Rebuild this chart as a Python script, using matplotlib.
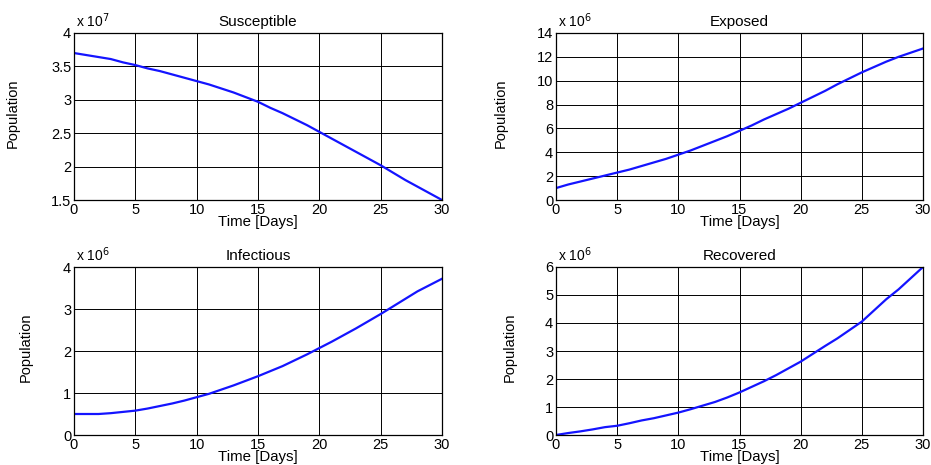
import numpy as np
import matplotlib
matplotlib.use("Agg")
import matplotlib.pyplot as plt
from matplotlib.ticker import FuncFormatter, MultipleLocator

plt.rcParams['font.family'] = ['Liberation Sans', 'DejaVu Sans']

days = list(range(0, 31))

susceptible = [3.70, 3.67, 3.64, 3.61, 3.56, 3.52, 3.47, 3.43, 3.38, 3.33, 3.28,
               3.23, 3.17, 3.11, 3.04, 2.97, 2.88, 2.80, 2.71, 2.62, 2.52,
               2.42, 2.32, 2.22, 2.12, 2.02, 1.91, 1.80, 1.70, 1.60, 1.50]
exposed = [1.0, 1.3, 1.55, 1.8, 2.05, 2.3, 2.55, 2.85, 3.15, 3.45, 3.8,
           4.15, 4.55, 4.95, 5.35, 5.8, 6.25, 6.75, 7.2, 7.65, 8.15,
           8.65, 9.15, 9.7, 10.2, 10.7, 11.15, 11.6, 12.0, 12.35, 12.7]
infectious = [0.5, 0.5, 0.5, 0.52, 0.55, 0.58, 0.63, 0.69, 0.75, 0.82, 0.9,
              0.98, 1.08, 1.18, 1.29, 1.4, 1.52, 1.64, 1.78, 1.92, 2.07,
              2.22, 2.38, 2.54, 2.71, 2.88, 3.06, 3.24, 3.42, 3.57, 3.72]
recovered = [0.0, 0.07, 0.13, 0.2, 0.28, 0.33, 0.42, 0.52, 0.6, 0.7, 0.8,
             0.92, 1.05, 1.18, 1.34, 1.52, 1.72, 1.92, 2.14, 2.38, 2.62,
             2.9, 3.18, 3.45, 3.75, 4.05, 4.45, 4.85, 5.2, 5.6, 6.0]

titles = ["Susceptible", "Exposed", "Infectious", "Recovered"]
series = [susceptible, exposed, infectious, recovered]
exponents = [7, 6, 6, 6]
ylims = [(1.5, 4), (0, 14), (0, 4), (0, 6)]
ysteps = [0.5, 2, 1, 1]

W, H = 931, 465
fig = plt.figure(figsize=(W / 100, H / 100), dpi=100)

boxes = [(74, 33, 442, 200), (556, 33, 923, 200),
         (74, 267, 442, 435), (556, 267, 923, 435)]
ylabel_x = [-0.147, -0.131, -0.111, -0.106]

for i in range(4):
    x0, y0, x1, y1 = boxes[i]
    ax = fig.add_axes([x0 / W, (H - y1) / H, (x1 - x0) / W, (y1 - y0) / H])
    scale = 10 ** exponents[i]
    vals = np.array(series[i]) * scale
    ax.plot(days, vals, color='#1414ff', lw=1.6)
    ax.set_xlim(0, 30)
    ax.set_ylim(ylims[i][0] * scale, ylims[i][1] * scale)
    ax.xaxis.set_major_locator(MultipleLocator(5))
    ax.yaxis.set_major_locator(MultipleLocator(ysteps[i] * scale))
    ax.yaxis.set_major_formatter(FuncFormatter(lambda v, p, s=scale: f"{v / s:g}"))
    ax.grid(True, color='black', lw=0.7)
    ax.tick_params(labelsize=10.5, length=0, pad=2)
    for sp in ax.spines.values():
        sp.set_linewidth(0.9)
    ax.set_title(titles[i], fontsize=11, pad=5)
    ax.set_xlabel("Time [Days]", fontsize=10.8, labelpad=-1)
    ax.set_ylabel("Population", fontsize=10.5)
    ax.yaxis.set_label_coords(ylabel_x[i], 0.52)
    ax.text(0.005, 1.015, "x 10$^{%d}$" % exponents[i], transform=ax.transAxes,
            fontsize=10, ha='left', va='bottom')

fig.savefig("out.png", dpi=100)
